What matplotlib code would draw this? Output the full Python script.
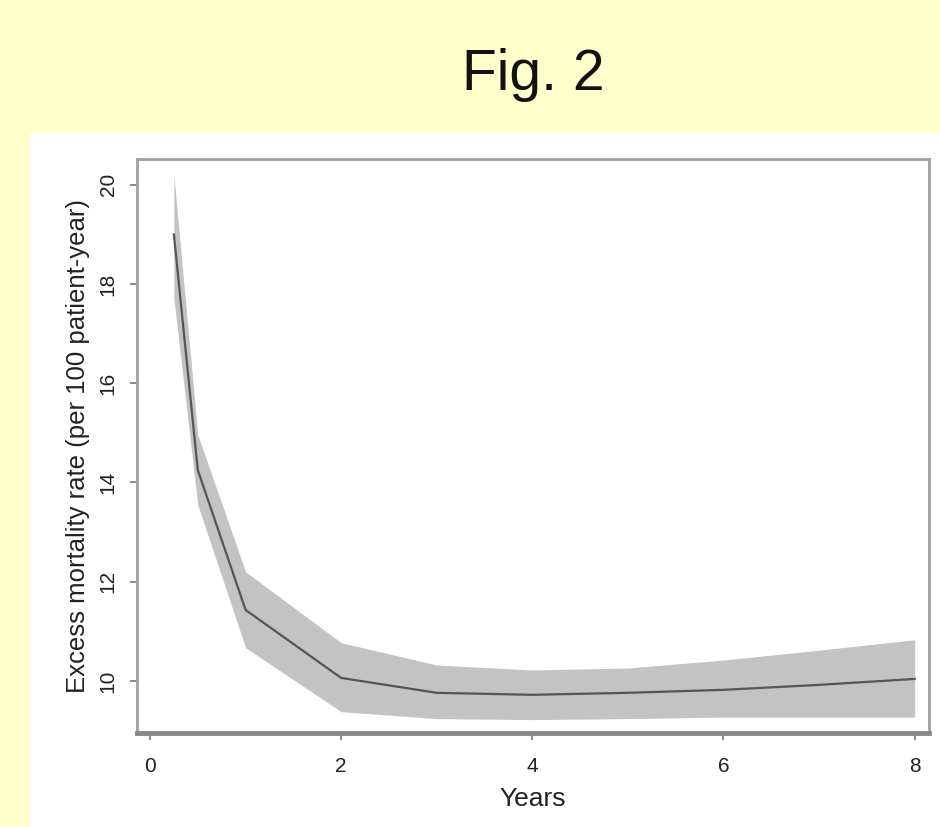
import matplotlib
matplotlib.use("Agg")
import matplotlib.pyplot as plt
from matplotlib.patches import Rectangle

plt.rcParams["font.family"] = ["Liberation Sans", "DejaVu Sans"]

# excess mortality rate (per 100 patient-year) by follow-up time
years = [0.25, 0.5, 1, 2, 3, 4, 5, 6, 7, 8]
rate = [19.0, 14.25, 11.43, 10.06, 9.76, 9.72, 9.76, 9.82, 9.92, 10.04]
ci_low = [17.7, 13.55, 10.67, 9.38, 9.24, 9.22, 9.24, 9.27, 9.27, 9.27]
ci_high = [20.2, 14.96, 12.2, 10.77, 10.32, 10.22, 10.26, 10.42, 10.62, 10.83]
x_ticks = [0, 2, 4, 6, 8]
y_ticks = [10, 12, 14, 16, 18, 20]

fig = plt.figure(figsize=(9.4, 8.27), dpi=100)
fig.patch.set_facecolor("#FFFFCC")
fig.patches.append(Rectangle((30 / 940, 0), 910 / 940, 694 / 827, transform=fig.transFigure,
                             facecolor="white", edgecolor="none", zorder=-10))
fig.text(533 / 940, 1 - 75 / 827, "Fig. 2", ha="center", va="center", fontsize=41, color="#111111")

ax = fig.add_axes([137 / 940, 94 / 827, 792 / 940, 574 / 827])
ax.set_zorder(5)
ax.set_facecolor("white")
ax.fill_between(years, ci_low, ci_high, color="#C3C3C3", linewidth=0, zorder=1)
ax.plot(years, rate, color="#555555", linewidth=1.6, zorder=2)

ax.set_xlim(-0.136, 8.15)
ax.set_ylim(8.95, 20.52)
ax.set_xticks(x_ticks)
ax.set_yticks(y_ticks)
ax.set_yticklabels([str(v) for v in y_ticks], rotation=90, va="center")
ax.tick_params(axis="both", length=5, width=1.2, color="#777777", labelsize=15, labelcolor="#222222")
ax.tick_params(axis="x", pad=12)
ax.tick_params(axis="y", pad=9)

for side in ["left", "right", "top"]:
    ax.spines[side].set_color("#A0A0A0")
    ax.spines[side].set_linewidth(2)
ax.spines["bottom"].set_color("#888888")
ax.spines["bottom"].set_linewidth(3.5)

ax.set_xlabel("Years", fontsize=19, color="#222222", labelpad=8)
ax.set_ylabel("Excess mortality rate (per 100 patient-year)", fontsize=18.5, color="#222222", labelpad=6)

fig.savefig("out.png", dpi=100, facecolor=fig.get_facecolor())
